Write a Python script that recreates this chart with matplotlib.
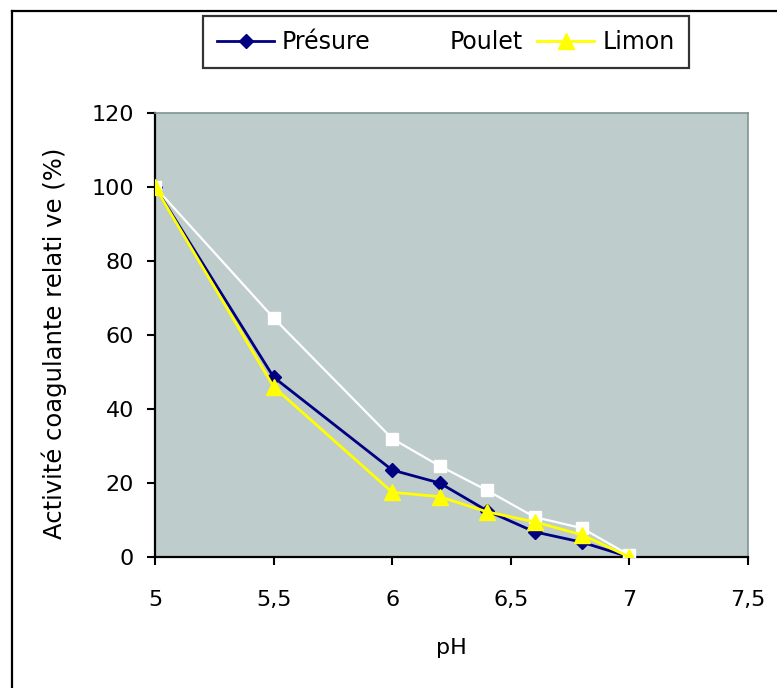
import matplotlib
matplotlib.use("Agg")
import matplotlib.pyplot as plt
from matplotlib.lines import Line2D

# donnees
ph = [5, 5.5, 6, 6.2, 6.4, 6.6, 6.8, 7]
presure = [100, 48.6, 23.5, 20, 12.5, 6.8, 4, 0]
poulet = [100, 64.6, 32, 24.6, 18, 10.8, 7.8, 0.5]
limon = [100, 46, 17.5, 16.3, 12.2, 9.5, 6, 0]

xticks = [5, 5.5, 6, 6.5, 7, 7.5]
xticklabels = ["5", "5,5", "6", "6,5", "7", "7,5"]
yticks = [0, 20, 40, 60, 80, 100, 120]

plt.rcParams['font.family'] = ['DejaVu Sans']
plt.rcParams['font.size'] = 16

fig = plt.figure(figsize=(7.77, 6.88), dpi=100)
ax = fig.add_axes([155/777, 1-557/688, (748-155)/777, (557-113)/688])
ax.set_facecolor('#bfcccc')

ax.plot(ph, presure, color='#000080', lw=2, marker='D', ms=7, label='Présure', zorder=3)
ax.plot(ph, poulet, color='white', lw=1.6, marker='s', ms=9, label='Poulet', zorder=4)
ax.plot(ph, limon, color='#ffff00', lw=2, marker='^', ms=11, label='Limon', zorder=5)

ax.set_xlim(5, 7.5)
ax.set_ylim(0, 120)
ax.set_xticks(xticks)
ax.set_xticklabels(xticklabels)
ax.set_yticks(yticks)
ax.tick_params(direction='out', length=6, width=1.5, color='black')
ax.tick_params(axis='y', pad=9)
ax.tick_params(axis='x', pad=18)

for s in ['left', 'bottom']:
    ax.spines[s].set_color('black')
    ax.spines[s].set_linewidth(1.6)
for s in ['top', 'right']:
    ax.spines[s].set_color('#7f9494')
    ax.spines[s].set_linewidth(1.2)

ax.set_xlabel('pH', labelpad=20)
ax.set_ylabel('Activité coagulante relati ve (%)', fontsize=17.5)
ax.yaxis.set_label_coords(-0.148, 0.482)

leg = fig.legend(loc='upper left', bbox_to_anchor=(203/777, 1-16/688), ncol=3,
                 frameon=True, fancybox=False, edgecolor='black',
                 handlelength=2.4, columnspacing=0.6, handletextpad=0.35,
                 borderpad=0.6, borderaxespad=0, fontsize=17)
leg.get_frame().set_linewidth(1.6)

# cadre exterieur (bords gauche et haut)
fig.add_artist(Line2D([12/777, 12/777], [0, 1-11/688], color='black', lw=1.6))
fig.add_artist(Line2D([12/777, 1], [1-11/688, 1-11/688], color='black', lw=1.6))

fig.savefig('out.png', dpi=100)
